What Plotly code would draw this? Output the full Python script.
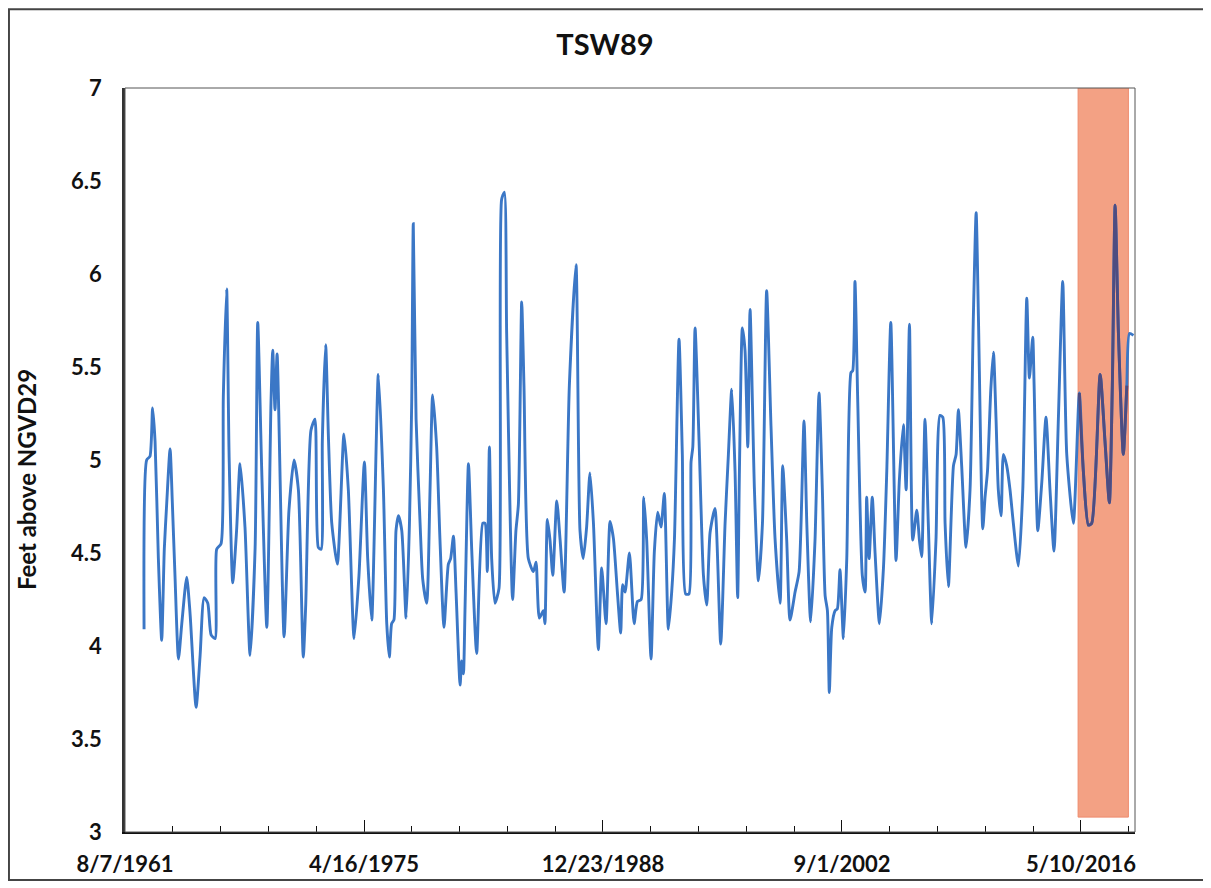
import pandas as pd
import plotly.graph_objects as go

# ---- data (decimal year, feet above NGVD29) ----
years = [
    1962.69, 1962.84, 1963.03, 1963.18, 1963.32, 1963.51, 1963.70, 1963.85, 1963.99, 1964.18,
    1964.31, 1964.46, 1964.66, 1964.85, 1965.13, 1965.32, 1965.67, 1965.90, 1966.13, 1966.34,
    1966.53, 1966.76, 1966.85, 1967.10, 1967.23, 1967.42, 1967.56, 1967.77, 1967.99, 1968.19,
    1968.47, 1968.76, 1969.05, 1969.20, 1969.43, 1969.72, 1969.96, 1970.06, 1970.19, 1970.31,
    1970.71, 1970.99, 1971.28, 1971.53, 1971.81, 1971.95, 1972.25, 1972.48, 1972.67, 1972.83,
    1972.90, 1973.09, 1973.25, 1973.44, 1973.76, 1974.14, 1974.39, 1974.72, 1975.00, 1975.31,
    1975.50, 1975.73, 1976.11, 1976.40, 1976.59, 1976.74, 1976.87, 1977.00, 1977.12, 1977.26,
    1977.45, 1977.70, 1977.89, 1978.02, 1978.11, 1978.27, 1978.50, 1978.65, 1978.88, 1979.07,
    1979.22, 1979.45, 1979.64, 1979.87, 1980.12, 1980.25, 1980.41, 1980.56, 1980.79, 1980.88,
    1980.98, 1981.07, 1981.27, 1981.46, 1981.74, 1982.09, 1982.22, 1982.35, 1982.47, 1982.60,
    1982.79, 1983.02, 1983.17, 1983.33, 1983.46, 1983.80, 1983.99, 1984.13, 1984.32, 1984.45,
    1984.70, 1984.99, 1985.14, 1985.33, 1985.56, 1985.65, 1985.79, 1985.94, 1986.10, 1986.33,
    1986.52, 1986.75, 1987.05, 1987.43, 1987.66, 1987.85, 1988.04, 1988.23, 1988.43, 1988.71,
    1988.90, 1989.15, 1989.38, 1989.57, 1989.80, 1989.99, 1990.10, 1990.24, 1990.49, 1990.76,
    1990.95, 1991.16, 1991.31, 1991.48, 1991.73, 1991.92, 1992.11, 1992.30, 1992.49, 1992.72,
    1992.91, 1993.07, 1993.33, 1993.52, 1993.71, 1993.90, 1994.02, 1994.12, 1994.25, 1994.48,
    1994.73, 1994.92, 1995.11, 1995.39, 1995.72, 1995.97, 1996.16, 1996.35, 1996.54, 1996.69,
    1996.79, 1996.96, 1997.11, 1997.27, 1997.40, 1997.65, 1997.88, 1998.11, 1998.35, 1998.60,
    1998.83, 1999.12, 1999.27, 1999.50, 1999.69, 1999.98, 2000.21, 2000.49, 2000.65, 2000.87,
    2001.12, 2001.35, 2001.54, 2001.70, 2001.83, 2001.94, 2002.08, 2002.27, 2002.40, 2002.55,
    2002.75, 2002.94, 2003.18, 2003.28, 2003.41, 2003.57, 2003.83, 2003.99, 2004.08, 2004.22,
    2004.40, 2004.56, 2004.81, 2005.04, 2005.23, 2005.46, 2005.76, 2005.95, 2006.18, 2006.34,
    2006.53, 2006.72, 2006.95, 2007.10, 2007.23, 2007.42, 2007.61, 2007.81, 2008.05, 2008.28,
    2008.44, 2008.57, 2008.76, 2009.05, 2009.20, 2009.33, 2009.52, 2009.77, 2010.00, 2010.19,
    2010.35, 2010.48, 2010.73, 2010.86, 2011.00, 2011.19, 2011.34, 2011.49, 2011.62, 2011.78,
    2011.91, 2012.10, 2012.29, 2012.48, 2012.77, 2013.02, 2013.25, 2013.40, 2013.59, 2013.67,
    2013.88, 2014.11, 2014.35, 2014.58, 2014.81, 2015.06, 2015.31, 2015.54, 2015.92, 2016.26,
    2016.49, 2016.78, 2016.97, 2017.45, 2017.73, 2017.98, 2018.15, 2018.31, 2018.50, 2018.78,
    2018.98, 2019.13, 2019.36,
]
stage_ft = [
    4.09, 5.00, 5.02, 5.28, 5.10, 4.47, 4.03, 4.52, 4.77, 5.06,
    4.77, 4.38, 3.93, 4.12, 4.37, 4.18, 3.67, 3.95, 4.26, 4.23,
    4.06, 4.04, 4.52, 4.55, 5.34, 5.92, 5.03, 4.34, 4.62, 4.98,
    4.64, 3.95, 4.53, 5.74, 4.94, 4.10, 5.31, 5.59, 5.27, 5.57,
    4.05, 4.73, 5.00, 4.84, 3.94, 4.22, 5.16, 5.22, 4.53, 4.52,
    5.10, 5.62, 5.12, 4.66, 4.44, 5.14, 4.84, 4.04, 4.38, 4.99,
    4.47, 4.14, 5.46, 4.84, 4.12, 3.94, 4.12, 4.14, 4.62, 4.70,
    4.62, 4.15, 4.66, 5.31, 6.27, 5.22, 4.66, 4.36, 4.23, 4.84,
    5.35, 5.07, 4.57, 4.10, 4.44, 4.47, 4.59, 4.29, 3.79, 3.92,
    3.85, 4.19, 4.98, 4.51, 3.96, 4.66, 4.66, 4.40, 5.07, 4.47,
    4.23, 4.31, 6.40, 6.44, 5.68, 4.25, 4.62, 4.76, 5.85, 5.40,
    4.47, 4.40, 4.45, 4.15, 4.19, 4.12, 4.68, 4.57, 4.38, 4.78,
    4.57, 4.29, 5.40, 6.05, 4.62, 4.47, 4.64, 4.93, 4.66, 3.98,
    4.42, 4.12, 4.67, 4.58, 4.29, 4.07, 4.33, 4.29, 4.50, 4.12,
    4.24, 4.25, 4.80, 4.57, 3.93, 4.51, 4.72, 4.64, 4.82, 4.09,
    4.29, 4.58, 5.65, 5.03, 4.28, 4.28, 4.99, 5.07, 5.71, 5.10,
    4.38, 4.22, 4.61, 4.74, 4.01, 4.66, 5.03, 5.38, 4.94, 4.26,
    4.94, 5.71, 5.59, 5.07, 5.81, 4.84, 4.35, 4.66, 5.91, 5.18,
    4.58, 4.23, 4.97, 4.57, 4.14, 4.29, 4.40, 5.21, 4.66, 4.13,
    4.57, 5.36, 4.84, 4.27, 4.19, 3.75, 4.10, 4.19, 4.20, 4.41,
    4.04, 4.47, 5.47, 5.48, 5.96, 5.31, 4.38, 4.29, 4.80, 4.47,
    4.80, 4.50, 4.12, 4.42, 4.94, 5.74, 4.46, 4.89, 5.19, 4.84,
    5.73, 4.57, 4.73, 4.57, 4.48, 5.22, 4.66, 4.12, 4.57, 5.24,
    5.23, 4.66, 4.32, 4.97, 5.03, 5.27, 4.97, 4.53, 4.84, 5.77,
    6.33, 5.77, 4.63, 4.80, 4.94, 5.38, 5.58, 5.22, 4.84, 4.70,
    5.03, 4.97, 4.84, 4.66, 4.43, 4.84, 5.87, 5.44, 5.66, 5.40,
    4.62, 4.88, 5.23, 4.84, 4.51, 5.22, 5.96, 5.03, 4.66, 5.36,
    4.94, 4.65, 4.66, 5.46, 5.10, 4.77, 5.40, 6.37, 5.68, 5.03,
    5.40, 5.68, 5.67,
]

title_text = "TSW89"
y_title = "Feet above NGVD29"
axis_start = "1961-08-07"
axis_end = "2019-06-14"
shade_start = 2016.19
shade_end = 2019.07


def yr2date(y):
    yr = int(y)
    a = pd.Timestamp(yr, 1, 1)
    b = pd.Timestamp(yr + 1, 1, 1)
    return a + (b - a) * (y - yr)


dates = [yr2date(y) for y in years]
s0, s1 = yr2date(shade_start), yr2date(shade_end)
in_d = [d for d in dates if s0 <= d <= s1]
in_v = [v for d, v in zip(dates, stage_ft) if s0 <= d <= s1]

FONT = "Lato"
INK = "#111111"
fig = go.Figure()
fig.add_trace(go.Scatter(x=dates, y=stage_ft, mode="lines",
                         line=dict(color="#3B77C6", width=2.9, shape="spline", smoothing=0.6),
                         hoverinfo="x+y"))
fig.add_trace(go.Scatter(x=in_d, y=in_v, mode="lines",
                         line=dict(color="#4E4C80", width=2.9, shape="spline", smoothing=0.6),
                         hoverinfo="x+y"))

# shaded period
fig.add_shape(type="rect", xref="x", yref="y", x0=s0, x1=s1, y0=3.08, y1=7.01,
              fillcolor="#F3A184", line=dict(color="#EE8A6C", width=1), layer="below")
# plot-area border
fig.add_shape(type="rect", xref="paper", yref="paper", x0=0, x1=1, y0=0, y1=1,
              line=dict(color="#555555", width=1), layer="above")
# outer chart border
fig.add_shape(type="rect", xref="paper", yref="paper",
              x0=-0.1149, x1=1.0713, y0=-0.0645, y1=1.106,
              line=dict(color="#444444", width=2), layer="above")

day_ms = 86400000
W, H = 1203, 880   # page adds an 8px body margin
fig.update_layout(
    width=W, height=H,
    margin=dict(l=117, r=76, t=80, b=56),
    paper_bgcolor="white", plot_bgcolor="white",
    showlegend=False,
    title=dict(text=title_text, x=(605 - 8) / W, xref="container", y=1 - 37 / H, yref="container",
               xanchor="center", yanchor="middle",
               font=dict(family=FONT, size=29, color=INK, weight="bold")),
    xaxis=dict(type="date", range=[axis_start, axis_end],
               tick0=axis_start, dtick=5000 * day_ms, tickformat="%-m/%-d/%Y",
               ticks="inside", ticklen=12, tickwidth=1, tickcolor=INK,
               minor=dict(tick0=axis_start, dtick=1000 * day_ms, ticks="inside",
                          ticklen=6, tickcolor=INK, showgrid=False),
               showgrid=False, zeroline=False,
               showline=True, linecolor=INK, linewidth=1.5,
               ticklabelstandoff=12,
               tickfont=dict(family=FONT, size=22, color=INK, weight="bold")),
    yaxis=dict(range=[3, 7], dtick=0.5, tick0=3, ticks="",
               showgrid=False, zeroline=False,
               showline=True, linecolor="#333333", linewidth=2.5,
               ticklabelstandoff=16,
               tickfont=dict(family=FONT, size=22, color=INK, weight="bold")),
)
fig.add_annotation(text=y_title, xref="paper", yref="paper", x=-0.098, y=0.473,
                   textangle=-90, showarrow=False, xanchor="center", yanchor="middle",
                   font=dict(family=FONT, size=24, color=INK, weight="bold"))

fig.write_html("out.html")
